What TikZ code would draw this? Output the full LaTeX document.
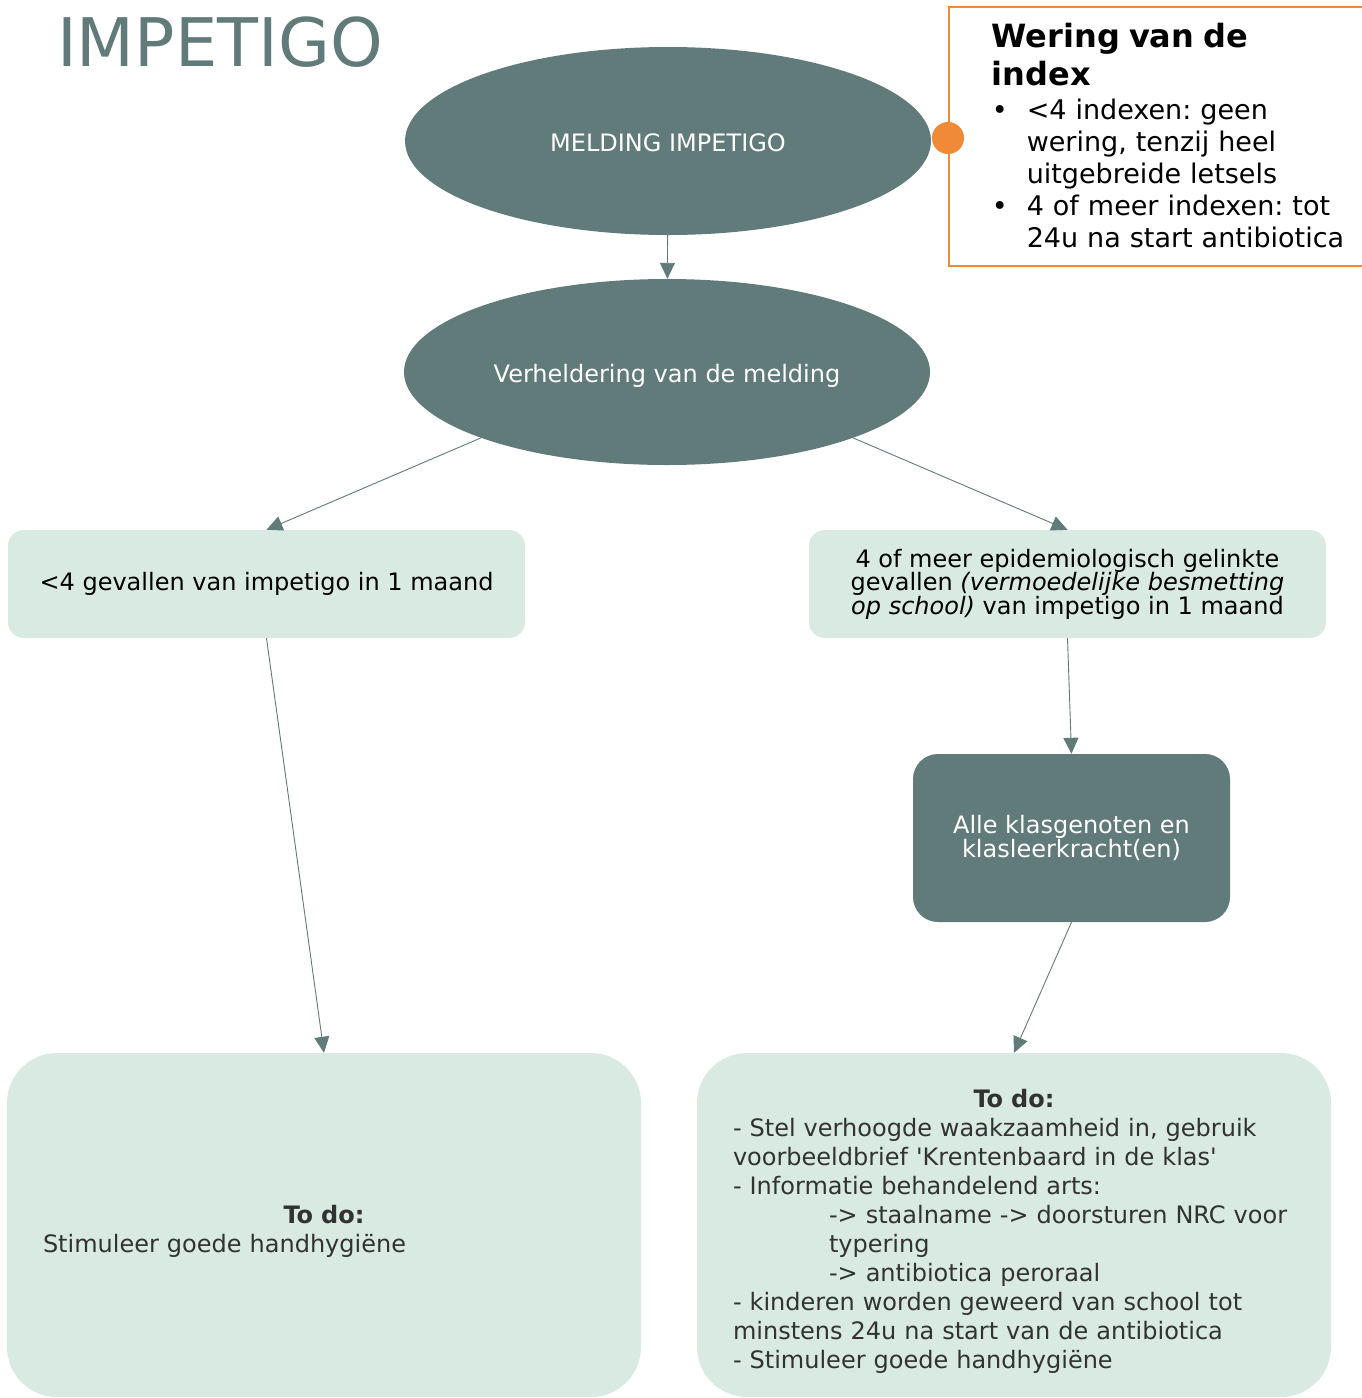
\documentclass[tikz,border=0pt]{standalone}
\usepackage{fontspec}
\setmainfont{DejaVu Sans}
\usetikzlibrary{shapes.geometric,arrows.meta}
\definecolor{leisteen}{RGB}{97,122,122}
\definecolor{mint}{RGB}{216,234,226}
\definecolor{oranje}{RGB}{240,138,54}
\definecolor{donkergrijs}{RGB}{50,50,50}
\frenchspacing
\begin{document}
\begin{tikzpicture}[x=1pt, y=-1pt,
    ovaal/.style={ellipse, fill=leisteen, text=white, inner sep=0pt, font=\fontsize{24}{28}\selectfont},
    lichtbox/.style={rectangle, rounded corners=16pt, fill=mint, text=black, inner sep=0pt, minimum width=517pt, minimum height=108pt, align=center, font=\fontsize{24}{23.5}\selectfont},
    klasbox/.style={rectangle, rounded corners=25pt, fill=leisteen, text=white, inner sep=0pt, minimum width=317pt, minimum height=168pt, align=center, font=\fontsize{24}{24}\selectfont},
    todobox/.style={rectangle, rounded corners=50pt, fill=mint, text=donkergrijs, inner xsep=36pt, inner ysep=0pt, text width=562pt, minimum height=344pt, align=left, font=\fontsize{24}{29}\selectfont},
    pijl/.style={draw=leisteen, line width=0.9pt, -{Triangle[length=16pt,width=15pt]}}]
  \useasboundingbox (0,0) rectangle (1361,1398);
  % titel en melding
  \node[anchor=base west, text=leisteen, inner sep=0pt, font=\fontsize{67}{76}\selectfont] (titel) at (57,66) {IMPETIGO};
  \node[ovaal, minimum width=526pt, minimum height=188pt, text height=21.5pt, text depth=0pt] (melding) at (668,141) {MELDING IMPETIGO};
  \node[ovaal, minimum width=526pt, minimum height=186pt, text height=26pt, text depth=5.5pt] (verh) at (667,372) {Verheldering van de melding};
  % wering van de index
  \node[draw=oranje, line width=1.5pt, anchor=north west, inner xsep=43pt, inner ysep=16pt, text width=400pt, align=left, font=\fontsize{27}{32}\selectfont] (wering) at (948,6)
    {{\bfseries\fontsize{32}{38}\selectfont Wering van de\\ index\par}\vspace{2pt}
     \makebox[35pt][l]{\textbullet}<4 indexen: geen\\
     \hspace*{35pt}wering, tenzij heel\\
     \hspace*{35pt}uitgebreide letsels\\
     \makebox[35pt][l]{\textbullet}4 of meer indexen: tot\\
     \hspace*{35pt}24u na start antibiotica\rule[-3pt]{0pt}{0pt}};
  \node[circle, fill=oranje, minimum size=32pt, inner sep=0pt] (punt) at (948,138) {};
  % gevallen
  \node[lichtbox] (weinig) at (266.5,584) {<4 gevallen van impetigo in 1 maand};
  \node[lichtbox] (veel) at (1067.5,584) {4 of meer epidemiologisch gelinkte\\ gevallen \textit{(vermoedelijke besmetting}\\ \textit{op school)} van impetigo in 1 maand};
  \node[klasbox] (klas) at (1071.5,838) {Alle klasgenoten en\\ klasleerkracht(en)};
  % to do
  \node[todobox] (todoA) at (324,1225) {\makebox[\linewidth][c]{\rule{0pt}{30pt}\textbf{To do:}}\\ Stimuleer goede handhygiëne};
  \node[todobox] (todoB) at (1014,1225) {\makebox[\linewidth][c]{\rule{0pt}{30pt}\textbf{To do:}}\\
    - Stel verhoogde waakzaamheid in, gebruik\\
    voorbeeldbrief \textquotesingle Krentenbaard in de klas\textquotesingle\\
    - Informatie behandelend arts:\\
    \hspace*{96pt}-> staalname -> doorsturen NRC voor\\
    \hspace*{96pt}typering\\
    \hspace*{96pt}-> antibiotica peroraal\\
    - kinderen worden geweerd van school tot\\
    minstens 24u na start van de antibiotica\\
    - Stimuleer goede handhygiëne};
  % pijlen
  \draw[pijl] (melding) -- (verh);
  \draw[pijl] (verh.south west) -- (weinig.north);
  \draw[pijl] (verh.south east) -- (veel.north);
  \draw[pijl] (weinig.south) -- (todoA.north);
  \draw[pijl] (veel.south) -- (klas.north);
  \draw[pijl] (klas.south) -- (todoB.north);
\end{tikzpicture}
\end{document}
